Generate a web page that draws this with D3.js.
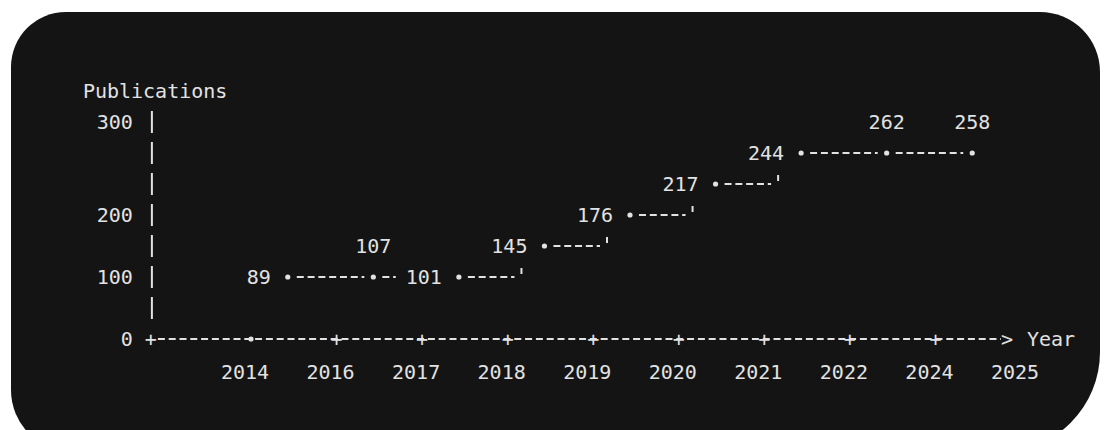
<!DOCTYPE html>
<html>
<head>
<meta charset="utf-8">
<script src="https://cdn.jsdelivr.net/npm/d3@7"></script>
<style>
  html, body { margin: 0; padding: 0; background: #ffffff; }
  svg { display: block; }
  text { font-family: "DejaVu Sans Mono", "Liberation Mono", monospace; font-size: 20px; fill: #e2e2e2; }
</style>
</head>
<body>
<svg id="chart" width="1104" height="430"></svg>
<script>
// ---- data ----
const yearLabels = ["2014", "2016", "2017", "2018", "2019", "2020", "2021", "2022", "2024", "2025"];
const pubYears = ["2014", "2016", "2017", "2018", "2019", "2020", "2021", "2022", "2024"];
const publications = [89, 107, 101, 145, 176, 217, 244, 262, 258];
const yTickValues = [0, 100, 200, 300];
const yTitle = "Publications";
const xTitle = "Year";

// ---- layout ----
const svg = d3.select("#chart");
const ink = "#e2e2e2";
const charW = 12.04; // monospace advance at 20px

// panel background (rounded dark card)
const L = 11, T = 12, R = 1100, B = 452;
const rTL = 55, rTR = 60, rBR = 100, rBL = 62;
svg.append("path")
  .attr("d", `M${L + rTL},${T} H${R - rTR} A${rTR},${rTR} 0 0 1 ${R},${T + rTR} V${B - rBR} A${rBR},${rBR} 0 0 1 ${R - rBR},${B} H${L + rBL} A${rBL},${rBL} 0 0 1 ${L},${B - rBL} V${T + rTL} A${rTL},${rTL} 0 0 1 ${L + rTL},${T} Z`)
  .attr("fill", "#141414");

// ---- scales (ASCII-style character rows) ----
const nRows = 7;
const rowY = d3.scaleLinear().domain([0, nRows]).range([339, 122]);   // text row -> pixel
const yRow = d3.scaleLinear().domain([0, 300]).range([0, nRows]);      // value -> fractional row
const yTick = v => rowY(Math.floor(yRow(v) + 1e-9));                   // tick label sits in the row cell that contains it
const y = v => rowY(Math.round(yRow(v)));                              // points snap to nearest row
const rowH = rowY(0) - rowY(1);
const x = d3.scalePoint().domain(yearLabels).range([245, 1015]);
const step = x.step();
const px = yr => x(yr) + step / 2;
const axisY = rowY(0);
const xOrigin = x(yearLabels[0]) - step * 1.1;
const xArrow = x(yearLabels[yearLabels.length - 1]) - 8;

// ---- y axis ----
svg.append("text").attr("x", xOrigin - 68).attr("y", rowY(nRows + 1)).attr("dy", "0.35em").text(yTitle);

svg.append("g").selectAll("text").data(yTickValues).join("text")
  .attr("x", xOrigin - 18)
  .attr("y", d => yTick(d))
  .attr("dy", "0.35em")
  .attr("text-anchor", "end")
  .text(d => d);

svg.append("g").selectAll("line").data(d3.range(1, nRows + 1)).join("line")
  .attr("x1", xOrigin + 1).attr("x2", xOrigin + 1)
  .attr("y1", r => rowY(r) - 11).attr("y2", r => rowY(r) + 11)
  .attr("stroke", ink).attr("stroke-width", 2);

// ---- x axis ----
svg.append("line")
  .attr("x1", xOrigin + 7).attr("x2", xArrow - 6)
  .attr("y1", axisY).attr("y2", axisY)
  .attr("stroke", ink).attr("stroke-width", 2)
  .attr("stroke-dasharray", "7 3.8");

svg.append("text").attr("x", xOrigin).attr("y", axisY).attr("dy", "0.35em")
  .attr("text-anchor", "middle").text("+");

const tickYears = yearLabels.slice(0, pubYears.length);
svg.append("g").selectAll("text").data(tickYears.slice(1)).join("text")
  .attr("x", d => x(d) + 6)
  .attr("y", axisY)
  .attr("dy", "0.35em")
  .attr("text-anchor", "middle")
  .text("+");
svg.append("circle").attr("cx", x(tickYears[0]) + 6).attr("cy", axisY).attr("r", 2.6).attr("fill", ink);

svg.append("text").attr("x", xArrow).attr("y", axisY).attr("dy", "0.35em")
  .attr("text-anchor", "middle").text(">");
svg.append("text").attr("x", xArrow + 20).attr("y", axisY).attr("dy", "0.35em").text(xTitle);

svg.append("g").selectAll("text").data(yearLabels).join("text")
  .attr("x", d => x(d))
  .attr("y", rowY(-1) + 2)
  .attr("dy", "0.35em")
  .attr("text-anchor", "middle")
  .text(d => d);

// ---- series ----
const pts = pubYears.map((yr, i) => ({ yr, v: publications[i], cx: px(yr), cy: y(publications[i]) }));
// a value label goes above its point inside a flat run, otherwise to the left
pts.forEach((d, i) => {
  const prevFlat = i > 0 && pts[i - 1].cy === d.cy;
  const nextFlat = i === pts.length - 1 || pts[i + 1].cy === d.cy;
  d.above = prevFlat && nextFlat;
  d.labelStart = d.above ? d.cx : d.cx - 17 - String(d.v).length * charW;
});

// step connectors
const segs = [];
for (let i = 0; i < pts.length - 1; i++) {
  const a = pts[i], b = pts[i + 1];
  const flat = a.cy === b.cy;
  let end = flat ? b.cx - 9 : b.cx - 30;
  if (flat && !b.above) end = Math.min(end, b.labelStart - 10);
  segs.push({ x1: a.cx + 9, x2: end, y: a.cy, tick: !flat, tx: b.cx - 23 });
}
svg.append("g").selectAll("line").data(segs).join("line")
  .attr("x1", d => d.x1).attr("x2", d => d.x2)
  .attr("y1", d => d.y).attr("y2", d => d.y)
  .attr("stroke", ink).attr("stroke-width", 2)
  .attr("stroke-dasharray", "7 3.8");
svg.append("g").selectAll("line").data(segs.filter(d => d.tick)).join("line")
  .attr("x1", d => d.tx).attr("x2", d => d.tx)
  .attr("y1", d => d.y - 9).attr("y2", d => d.y - 3)
  .attr("stroke", ink).attr("stroke-width", 2);

svg.append("g").selectAll("circle").data(pts).join("circle")
  .attr("cx", d => d.cx).attr("cy", d => d.cy).attr("r", 2.6).attr("fill", ink);

svg.append("g").selectAll("text").data(pts).join("text")
  .attr("x", d => d.above ? d.cx : d.cx - 17)
  .attr("y", d => d.above ? d.cy - rowH : d.cy)
  .attr("text-anchor", d => d.above ? "middle" : "end")
  .attr("dy", "0.35em")
  .text(d => d.v);
</script>
</body>
</html>
